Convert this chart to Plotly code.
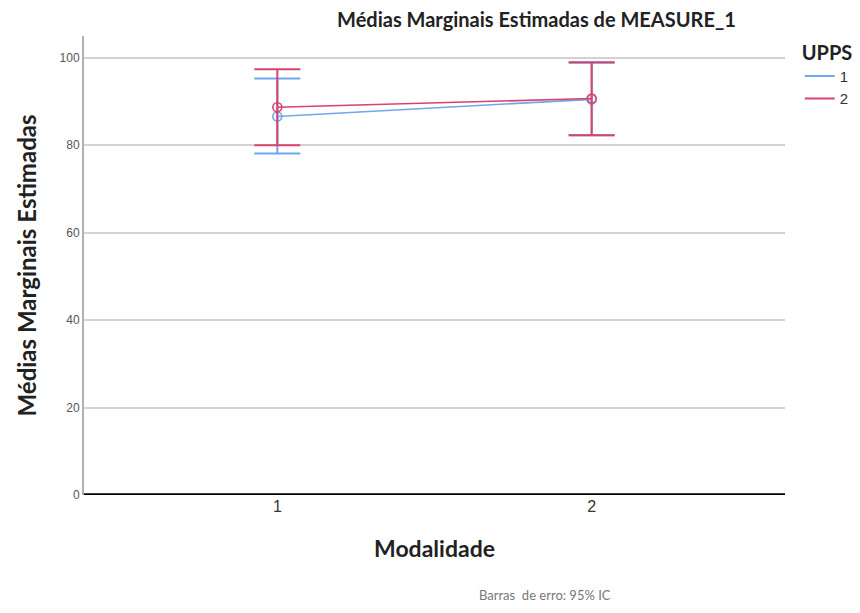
import plotly.graph_objects as go

categories = [1, 2]
groups = ["1", "2"]
means_g1 = [86.6, 90.5]
upper_g1 = [95.3, 98.9]
lower_g1 = [78.1, 82.3]
means_g2 = [88.7, 90.7]
upper_g2 = [97.4, 99.0]
lower_g2 = [80.0, 82.3]
yticks = [0, 20, 40, 60, 80, 100]

colors = {"1": "#6FA6EE", "2": "#D8436E"}

fig = go.Figure()
for name, m, u, l in [("1", means_g1, upper_g1, lower_g1), ("2", means_g2, upper_g2, lower_g2)]:
    fig.add_trace(go.Scatter(
        x=categories, y=m, name=name, mode="lines+markers", showlegend=False,
        line=dict(color=colors[name], width=1.6),
        marker=dict(symbol="circle-open", size=9, color=colors[name], line=dict(width=1.6)),
        error_y=dict(type="data", symmetric=False,
                     array=[a - b for a, b in zip(u, m)],
                     arrayminus=[b - c for b, c in zip(m, l)],
                     color=colors[name], thickness=2, width=23),
    ))
for name in groups:
    fig.add_trace(go.Scatter(x=[None], y=[None], name=name, mode="lines",
                             line=dict(color=colors[name], width=2)))

# browser body adds 8px offset; compensate in margins
fig.update_layout(
    width=860, height=613,
    paper_bgcolor="white", plot_bgcolor="white",
    margin=dict(l=76, r=83, t=28, b=126),
    font=dict(family="Liberation Sans, Arial, sans-serif", color="#333333"),
    title=dict(text="<b>Médias Marginais Estimadas de MEASURE_1</b>",
               x=0.6145, xanchor="center", xref="container",
               y=0.992, yanchor="top", yref="container", pad=dict(t=0, b=0),
               font=dict(family="Lato, sans-serif", size=20, color="#222222")),
    showlegend=True,
    legend=dict(x=1.021, y=1.005, xanchor="left", yanchor="top",
                title=dict(text="<b>UPPS</b>", font=dict(family="Lato, sans-serif", size=20, color="#222222")),
                font=dict(family="Liberation Sans, Arial, sans-serif", size=15, color="#333333"),
                tracegroupgap=0, itemwidth=30, bgcolor="rgba(0,0,0,0)"),
    xaxis=dict(range=[0.385, 2.615], tickvals=categories, ticktext=[str(c) for c in categories],
               showgrid=False, zeroline=False, showline=False,
               tickfont=dict(size=16, color="#333333"), ticks="",
               title=dict(text="<b>Modalidade</b>", standoff=26,
                          font=dict(family="Lato, sans-serif", size=23, color="#222222"))),
    yaxis=dict(range=[0, 105], tickvals=yticks, showgrid=True, gridcolor="#D3D3D3", gridwidth=2,
               zeroline=False, showline=True, linecolor="#B0B0B0", linewidth=2,
               tickfont=dict(size=12, color="#555555"), ticks="",
               title=dict(text="<b>Médias Marginais Estimadas</b>", standoff=16,
                          font=dict(family="Lato, sans-serif", size=24, color="#222222"))),
    shapes=[dict(type="line", xref="paper", yref="y", x0=0, x1=1, y0=0, y1=0,
                 line=dict(color="black", width=3.5))],
    annotations=[dict(text="Barras  de erro: 95% IC", xref="paper", yref="paper",
                      x=0.658, y=-0.218, xanchor="center", yanchor="middle", showarrow=False,
                      font=dict(family="Lato, sans-serif", size=13, color="#777777"))],
)

fig.write_html("out.html")
